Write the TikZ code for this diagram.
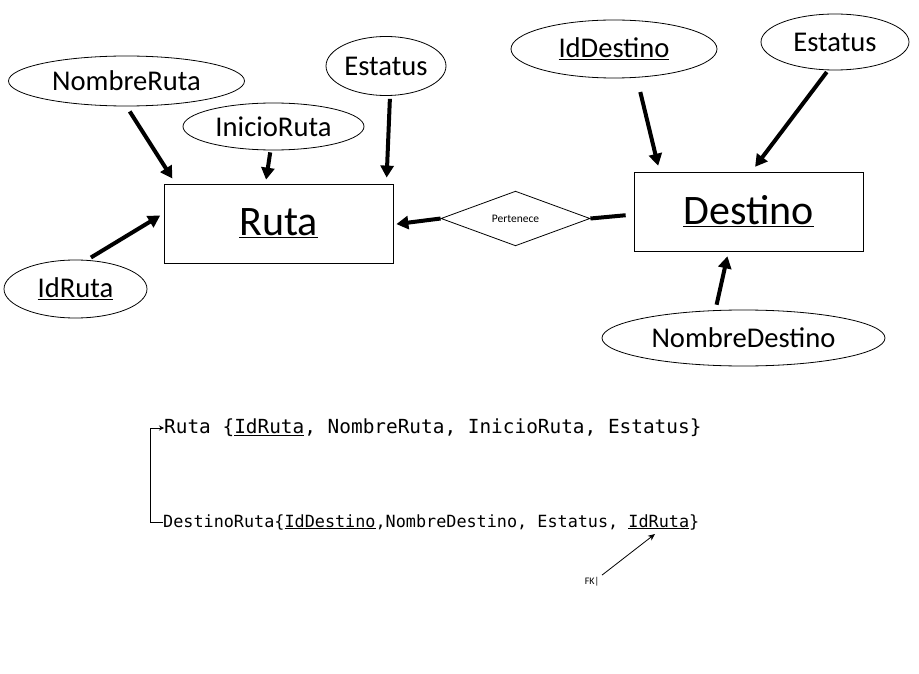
\documentclass[tikz,border=0pt]{standalone}
\usepackage{fontspec}
\setmainfont{Carlito}
\newfontfamily\monofont{DejaVu Sans Mono}
\usetikzlibrary{shapes.geometric,arrows.meta}
\begin{document}
\begin{tikzpicture}[x=1pt,y=-1pt,
	entidad/.style={draw,line width=0.8pt,minimum width=229pt,minimum height=79pt,inner sep=0pt,font=\fontsize{42}{42}\selectfont},
	atributo/.style={draw,ellipse,line width=0.8pt,inner sep=0pt,font=\fontsize{28.6}{28.6}\selectfont},
	relacion/.style={draw,diamond,line width=0.8pt,minimum width=149pt,minimum height=51pt,inner sep=0pt,font=\fontsize{11.5}{11.5}\selectfont},
	flecha/.style={line width=4pt,-{Triangle[length=12pt,width=13pt]}},
	tabla/.style={inner sep=0pt,anchor=west,font=\monofont\fontsize{19.4}{19.4}\selectfont}]
	\useasboundingbox (0,0) rectangle (919,674);
	\node[entidad] (ruta) at (278.5,223.5) {\underline{Ruta}};
	\node[entidad] (destino) at (748.5,211.5) {\underline{Destino}};
	\node[relacion] (pertenece) at (515.5,218.5) {Pertenece};
	\node[atributo,minimum width=236pt,minimum height=50pt] (nombreruta) at (126.5,81) {NombreRuta};
	\node[atributo,minimum width=181pt,minimum height=47pt] (inicioruta) at (273.5,126.5) {InicioRuta};
	\node[atributo,minimum width=120pt,minimum height=59pt] (estatusruta) at (386,66) {Estatus};
	\node[atributo,minimum width=143pt,minimum height=58pt] (idruta) at (75.5,289) {\underline{IdRuta}};
	\node[atributo,minimum width=206pt,minimum height=58pt] (iddestino) at (614,49) {\underline{IdDestino}};
	\node[atributo,minimum width=148pt,minimum height=56pt] (estatusdestino) at (835,42) {Estatus};
	\node[atributo,minimum width=283pt,minimum height=56pt] (nombredestino) at (743.5,338) {NombreDestino};
	\draw[flecha,shorten <=6pt,shorten >=6pt] (nombreruta.south) -- ([xshift=12pt]ruta.north west);
	\draw[flecha,shorten <=2pt,shorten >=4pt] ([xshift=-3pt]inicioruta.south) -- ([xshift=-13pt]ruta.north);
	\draw[flecha,shorten <=3pt,shorten >=6pt] ([xshift=4pt]estatusruta.south) -- ([xshift=-7pt]ruta.north east);
	\draw[flecha,shorten <=4pt,shorten >=4pt] ([xshift=12pt]idruta.north) -- ([yshift=10pt]ruta.west);
	\draw[flecha,shorten <=14pt,shorten >=6pt] ([xshift=23pt]iddestino.south) -- ([xshift=26pt]destino.north west);
	\draw[flecha,shorten <=2pt,shorten >=6pt] ([xshift=-7pt]estatusdestino.south) -- ([xshift=3pt]destino.north);
	\draw[flecha,shorten <=5pt,shorten >=5pt] ([xshift=-28pt]nombredestino.north) -- ([xshift=-20pt]destino.south);
	\draw[line width=4pt,shorten <=8pt] ([yshift=-3pt]destino.west) -- (pertenece.east);
	\draw[flecha,shorten >=3pt] (pertenece.west) -- ([yshift=-1pt]ruta.east);
	\node[tabla] (tablaruta) at (164,428) {Ruta \{\underline{IdRuta}, NombreRuta, InicioRuta, Estatus\}};
	\node[tabla,font=\monofont\fontsize{16.8}{17}\selectfont] (tabladestino) at (163,522) {DestinoRuta\{\underline{IdDestino},NombreDestino, Estatus, \underline{IdRuta}\}};
	\draw[line width=0.8pt,-{Stealth[length=5pt,width=5pt]}] (tabladestino.west) -- ++(-13pt,0) |- (tablaruta.west);
	\node[font=\fontsize{10}{10}\selectfont,inner sep=1pt] (fk) at (592,582) {FK|};
	\coordinate (fkruta) at (655,534);
	\draw[line width=0.8pt,-{Stealth[length=7pt,width=6pt]},shorten <=2pt] (fk.north east) -- (fkruta);
\end{tikzpicture}
\end{document}
